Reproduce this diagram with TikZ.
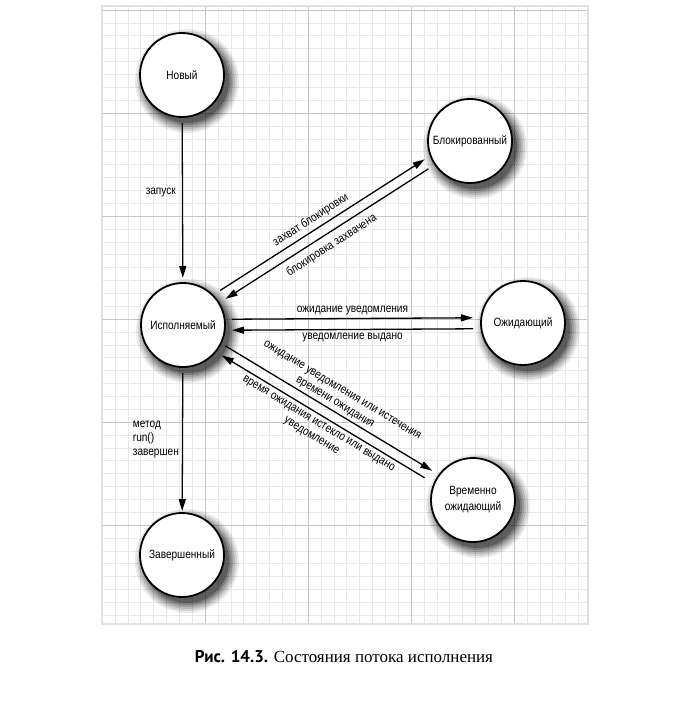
\documentclass[tikz,border=0pt]{standalone}
\usepackage{fontspec}
\setmainfont{Liberation Serif}
\newfontfamily\labelfont[FakeStretch=0.84]{Liberation Sans}
\newfontfamily\capsans{PT Sans}
\usetikzlibrary{arrows.meta,calc}

\tikzset{
  minorgrid/.style={draw=black!9, line width=0.5pt},
  majorgrid/.style={draw=black!22, line width=0.7pt},
  state/.style={circle, draw=black, line width=1.8pt, fill=white,
    minimum size=84pt, inner sep=0pt, align=center,
    font=\labelfont\fontsize{12}{16}\selectfont},
  trans/.style={line width=1.3pt, -{Triangle[length=12pt,width=7pt]}},
  back/.style={line width=1.3pt, {Triangle[length=12pt,width=7pt]}-},
  lbl/.style={font=\labelfont\fontsize{12}{14}\selectfont, inner sep=2pt, align=center},
}

\begin{document}
\begin{tikzpicture}[x=1pt,y=-1pt]
  \useasboundingbox (0,0) rectangle (678,706);
  \fill[white] (0,0) rectangle (678,706);

  % graph paper
  \foreach \i in {0,...,37} {
    \draw[minorgrid] ({102+12.875*\i},6) -- ({102+12.875*\i},624);
  }
  \foreach \j in {0,...,47} {
    \draw[minorgrid] (102,{10+12.875*\j}) -- (588,{10+12.875*\j});
  }
  \foreach \x in {102,205,308,411,514} {
    \draw[majorgrid] (\x,6) -- (\x,624);
  }
  \foreach \y in {10,113,216,319,422,525} {
    \draw[majorgrid] (102,\y) -- (588,\y);
  }
  \draw[draw=black!12, line width=1.2pt] (102,6) rectangle (588,624);

  % soft shadows behind the state circles
  \foreach \cx/\cy in {182/75, 183/325, 182/555, 470/141, 523/323, 473/500} {
    \foreach \r/\o in {52/0.08, 50/0.10, 48/0.12, 46/0.15, 44/0.2, 42/0.25} {
      \fill[black, opacity=\o] ({\cx+5},{\cy+6}) circle (\r);
    }
  }

  % states
  \node[state] (new)  at (182,75)  {Новый};
  \node[state] (run)  at (183,325) {Исполняемый};
  \node[state] (done) at (182,555) {Завершенный};
  \node[state] (blk)  at (470,141) {Блокированный};
  \node[state] (wait) at (523,323) {Ожидающий};
  \node[state] (tw)   at (473,500) {Временно\\ожидающий};

  % start and finish
  \draw[trans] ($(new)!48pt!(run)$) -- node[lbl, pos=0.45, left=4pt] {запуск} ($(run)!47pt!(new)$);
  \draw[trans] ($(run)!48pt!(done)$) -- node[lbl, pos=0.48, left=1pt, align=left] {метод\\run()\\завершен} ($(done)!44pt!(run)$);

  % blocked
  \draw[trans] ($(run)!50pt!(blk)!9pt!90:(blk)$) --
    node[lbl, sloped, pos=0.47, above=2pt] {захват блокировки}
    ($(blk)!48pt!(run)!9pt!-90:(run)$);
  \draw[back] ($(run)!50pt!(blk)!1pt!-90:(blk)$) --
    node[lbl, sloped, pos=0.49, below=4pt] {блокировка захвачена}
    ($(blk)!50pt!(run)!1pt!90:(run)$);

  % waiting
  \draw[trans] ($(run)!49pt!(wait)!5.5pt!90:(wait)$) --
    node[lbl, pos=0.5, above=1pt] {ожидание уведомления}
    ($(wait)!50pt!(run)!5.5pt!-90:(run)$);
  \draw[back] ($(run)!49pt!(wait)!5.5pt!-90:(wait)$) --
    node[lbl, pos=0.5, below=1pt] {уведомление выдано}
    ($(wait)!50pt!(run)!5.5pt!90:(run)$);

  % timed waiting
  \draw[trans] ($(run)!47pt!(tw)!4pt!90:(tw)$) --
    node[lbl, sloped, pos=0.51, above=1.5pt, inner sep=1pt] {ожидание уведомления или истечения\\времени ожидания}
    ($(tw)!50pt!(run)!4pt!-90:(run)$);
  \draw[back] ($(run)!49pt!(tw)!6pt!-90:(tw)$) --
    node[lbl, sloped, pos=0.5, below=3pt, inner sep=1pt] {время ожидания истекло или выдано\\уведомление}
    ($(tw)!53pt!(run)!6pt!90:(run)$);

  % caption
  \node[font=\fontsize{17}{20}\selectfont] (caption) at (344,657)
    {{\capsans\bfseries Рис. 14.3.} Состояния потока исполнения};
\end{tikzpicture}
\end{document}
